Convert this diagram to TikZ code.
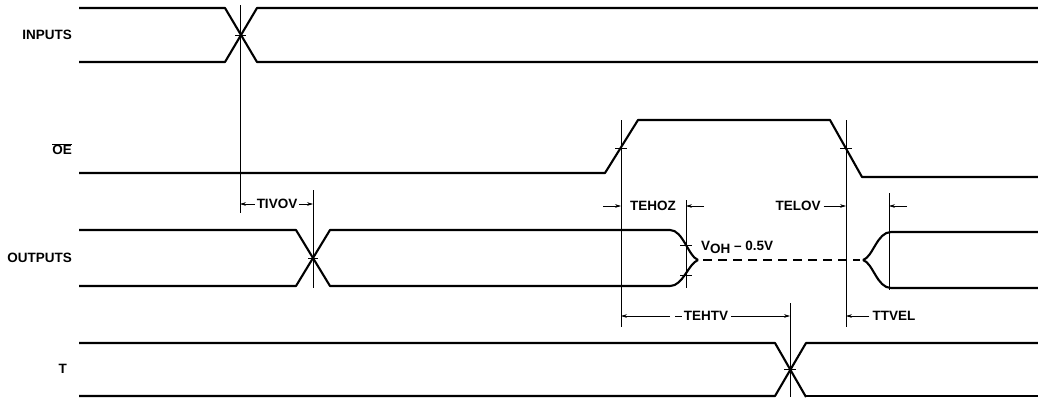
\documentclass[tikz,border=0pt]{standalone}
\usepackage{fontspec}
\setmainfont{Liberation Sans}
\usetikzlibrary{arrows.meta}
\begin{document}
\begin{tikzpicture}[x=1pt,y=-1pt,
  sig/.style={line width=2.1pt, line join=round},
  guide/.style={line width=0.6pt},
  tickmark/.style={line width=0.6pt},
  dim/.style={line width=0.6pt,-{Stealth[length=6pt,width=3.6pt]}},
  lbl/.style={font=\fontsize{13.5}{13.5}\selectfont\bfseries, inner sep=0pt},
  dashsig/.style={line width=2.1pt, dash pattern=on 9pt off 6pt}
]
\useasboundingbox (0,0) rectangle (1038,397);

% named guide coordinates (x positions of vertical reference lines)
\coordinate (g1) at (240,0);
\coordinate (g2) at (313,0);
\coordinate (g3) at (621,0);
\coordinate (g4) at (686,0);
\coordinate (g5) at (790,0);
\coordinate (g6) at (846,0);
\coordinate (g7) at (889,0);

% ---------- signal labels ----------
\node[lbl,anchor=east] (inputs) at (72,35) {INPUTS};
\node[lbl,anchor=east] (oe) at (72,149) {$\overline{\hbox{OE}}$};
\node[lbl,anchor=east] (outputs) at (72,258) {OUTPUTS};
\node[lbl,anchor=east] (tlab) at (67,369) {T};

% ---------- INPUTS ----------
\draw[sig] (79,8) -- (225,8) -- (257,62) -- (1038,62);
\draw[sig] (79,62) -- (225,62) -- (257,8) -- (1038,8);
\draw[tickmark] (235,35) -- (246,35);

% ---------- OE ----------
\draw[sig] (79,173) -- (605,173) -- (638,120) -- (830,120) -- (862,177) -- (1038,177);
\draw[tickmark] (615,148) -- (627,148);
\draw[tickmark] (840,148) -- (852,148);

% ---------- OUTPUTS ----------
\draw[sig] (79,230) -- (296,230) -- (330,286) -- (670,286)
  .. controls (683,286) and (688,264) .. (698,260);
\draw[sig] (79,286) -- (296,286) -- (330,230) -- (670,230)
  .. controls (683,230) and (688,256) .. (698,260);
\draw[tickmark] (308,258) -- (318,258);
\draw[tickmark] (680,245) -- (692,245);
\draw[tickmark] (680,275) -- (692,275);
\draw[dashsig] (703,260) -- (860,260);
\draw[sig] (863,260) .. controls (873,257) and (877,232) .. (891,232) -- (1038,232);
\draw[sig] (863,260) .. controls (873,263) and (877,288) .. (891,288) -- (1038,288);
\node[lbl,anchor=base west] (voh) at (701,250)
  {V\raisebox{-3.5pt}{OH} -- 0.5V};

% ---------- T ----------
\draw[sig] (79,343) -- (775,343) -- (806,397);
\draw[sig] (79,396) -- (775,396) -- (806,343) -- (1038,343);
\draw[sig] (806,396) -- (1038,396);
\draw[tickmark] (784,369) -- (796,369);

% ---------- vertical guide lines ----------
\draw[guide] (240,5) -- (240,213);
\draw[guide] (313,190) -- (313,288);
\draw[guide] (621,120) -- (621,327);
\draw[guide] (686,200) -- (686,288);
\draw[guide] (846,120) -- (846,327);
\draw[guide] (889,193) -- (889,290);
\draw[guide] (790,303) -- (790,397);

% ---------- timing annotations ----------
\node[lbl] (tivov) at (277,204) {TIVOV};
\draw[dim] ([xshift=-2pt]tivov.west) -- (tivov.west -| g1);
\draw[dim] ([xshift=2pt]tivov.east) -- (tivov.east -| g2);

\node[lbl] (tehoz) at (653,206) {TEHOZ};
\coordinate (tehozl) at (603,206);
\coordinate (tehozr) at (704,206);
\draw[dim] (tehozl) -- (tehozl -| g3);
\draw[dim] (tehozr) -- (tehozr -| g4);

\node[lbl] (telov) at (798,206) {TELOV};
\draw[dim] ([xshift=3pt]telov.east) -- (telov.east -| g6);

\coordinate (ttr) at (907,206);
\draw[dim] (ttr) -- (ttr -| g7);

\node[lbl] (tehtv) at (706,316) {TEHTV};
\coordinate (tehtvd) at (670,316);
\draw[dim] (tehtvd) -- (tehtvd -| g3);
\draw[guide] (675,316) -- (682,316);
\draw[dim] ([xshift=3pt]tehtv.east) -- (tehtv.east -| g5);

\node[lbl] (ttvel) at (894,316) {TTVEL};
\draw[dim] ([xshift=-3pt]ttvel.west) -- (ttvel.west -| g6);
\end{tikzpicture}
\end{document}
